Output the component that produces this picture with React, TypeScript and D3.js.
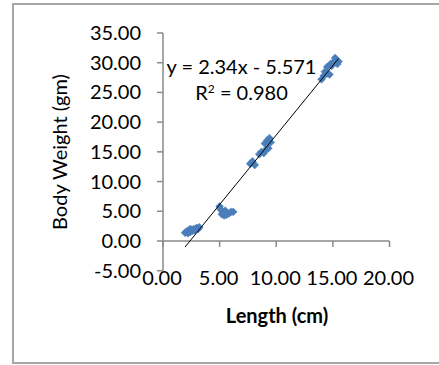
import React from "react";
import * as d3 from "d3";

const lengthCm = [
  1.95, 2.1, 2.2, 2.3, 2.4, 2.5, 2.6, 2.7, 2.8, 2.9, 3.0, 3.1, 3.2, 2.4,
  5.0, 5.1, 5.2, 5.4, 5.6, 5.8, 6.0, 6.2, 5.5, 5.3,
  7.7, 7.9, 8.1, 8.5, 8.7, 8.9, 9.1, 9.3, 9.0, 9.2, 9.4, 9.5,
  14.0, 14.2, 14.3, 14.5, 14.7, 14.5, 14.8, 15.0, 15.2, 15.4, 15.5, 14.9,
];
const bodyWeightGm = [
  1.4, 1.6, 1.3, 1.8, 1.5, 1.9, 1.7, 2.0, 1.8, 2.1, 2.2, 2.0, 2.3, 2.0,
  5.8, 5.3, 4.5, 4.3, 4.4, 4.6, 4.9, 4.9, 5.1, 4.8,
  13.0, 13.4, 12.8, 14.6, 15.0, 14.8, 15.4, 15.6, 16.4, 16.9, 17.3, 16.6,
  27.2, 27.8, 28.5, 28.2, 28.0, 29.3, 29.8, 30.0, 30.8, 29.8, 30.2, 29.5,
];
const xTicks = [0, 5, 10, 15, 20];
const yTicks = [-5, 0, 5, 10, 15, 20, 25, 30, 35];
const slope = 2.34;
const intercept = -5.571;
const rSquared = "0.980";
const xTitle = "Length (cm)";
const yTitle = "Body Weight (gm)";

export default function App() {
  const W = 439;
  const H = 365;
  const x = d3.scaleLinear().domain([0, 20]).range([163, 389.5]);
  const y = d3.scaleLinear().domain([-5, 35]).range([270.7, 33]);
  const font = "Lato, 'Noto Sans', sans-serif";
  const axisColor = "#8a8a8a";
  const markerColor = "#4a7ebb";
  const xMin = d3.min(lengthCm) as number;
  const xMax = d3.max(lengthCm) as number;
  const diamond = d3.symbol().type(d3.symbolDiamond2).size(40)() as string;
  const fmt = (v: number) => v.toFixed(2);
  return (
    <svg
      width={W}
      height={H}
      style={{ position: "absolute", left: 0, top: 0, background: "#fff" }}
    >
      <rect x={13} y={4} width={460} height={359} fill="#fff" stroke="#a6a6a6" strokeWidth={2} />
      {/* y axis */}
      <line x1={x(0)} x2={x(0)} y1={y(-5)} y2={y(35)} stroke={axisColor} strokeWidth={1.5} />
      {yTicks.map((t) => (
        <g key={"y" + t}>
          <line x1={x(0) - 6} x2={x(0)} y1={y(t)} y2={y(t)} stroke={axisColor} strokeWidth={1.5} />
          <text
            x={141}
            y={y(t) + 7}
            textAnchor="end"
            fontFamily={font}
            fontSize={20}
            fill="#000"
          >
            {fmt(t)}
          </text>
        </g>
      ))}
      {/* x axis */}
      <line x1={x(0)} x2={x(20)} y1={y(0)} y2={y(0)} stroke={axisColor} strokeWidth={1.5} />
      {xTicks.map((t) => (
        <g key={"x" + t}>
          <line x1={x(t)} x2={x(t)} y1={y(0)} y2={y(0) + 6} stroke={axisColor} strokeWidth={1.5} />
          <text
            x={x(t) - 1}
            y={285}
            textAnchor="middle"
            fontFamily={font}
            fontSize={20}
            fill="#000"
          >
            {fmt(t)}
          </text>
        </g>
      ))}
      {/* markers */}
      {lengthCm.map((v, i) => (
        <path
          key={"p" + i}
          d={diamond}
          transform={`translate(${x(v)},${y(bodyWeightGm[i])})`}
          fill={markerColor}
          stroke={markerColor}
          strokeWidth={0.5}
        />
      ))}
      {/* trendline */}
      <line
        x1={x(xMin)}
        y1={y(slope * xMin + intercept)}
        x2={x(xMax)}
        y2={y(slope * xMax + intercept)}
        stroke="#000"
        strokeWidth={1}
      />
      <text x={241.5} y={74.3} textAnchor="middle" fontFamily={font} fontSize={20} fill="#000">
        {`y = ${slope}x - ${Math.abs(intercept)}`}
      </text>
      <text x={241.5} y={100} textAnchor="middle" fontFamily={font} fontSize={20} fill="#000">
        R<tspan dy={-7} fontSize={12}>2</tspan>
        <tspan dy={7}>{` = ${rSquared}`}</tspan>
      </text>
      <text
        x={277}
        y={322.7}
        textAnchor="middle"
        fontFamily={font}
        fontWeight="bold"
        fontSize={20}
        fill="#000"
      >
        {xTitle}
      </text>
      <text
        transform={`translate(67,152) rotate(-90)`}
        textAnchor="middle"
        fontFamily={font}
        fontSize={20}
        fill="#000"
      >
        {yTitle}
      </text>
    </svg>
  );
}
